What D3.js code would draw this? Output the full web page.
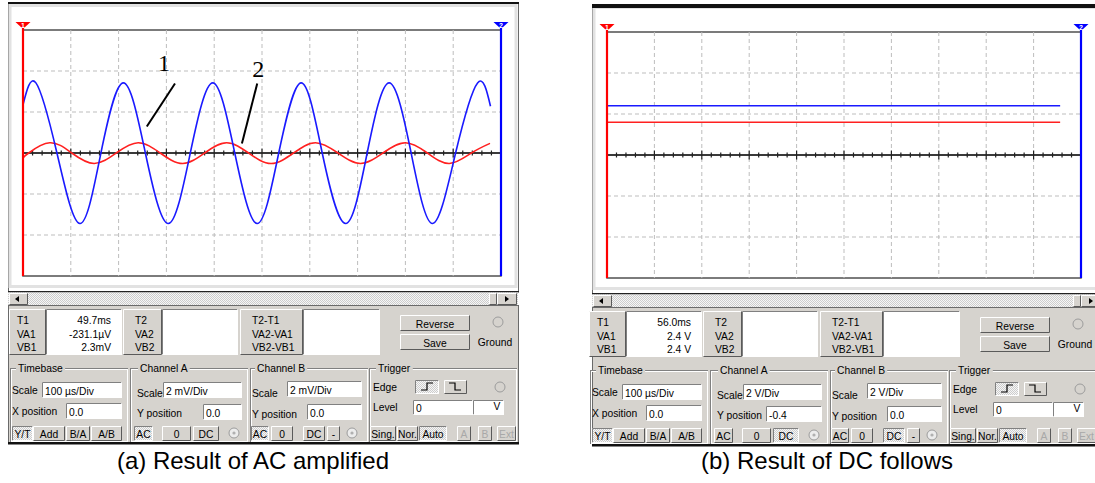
<!DOCTYPE html>
<html>
<head>
<meta charset="utf-8">
<script src="https://cdn.jsdelivr.net/npm/d3@7/dist/d3.min.js"></script>
<style>
body { margin: 0; background: #fff; }
svg text { font-family: "Liberation Sans", Arial, sans-serif; }
</style>
</head>
<body>
<svg id="chart" width="1095" height="483"></svg>
<script>
// (a) AC test: time in us, channel voltage in mV (2 mV/Div)
const acBlueTime = [0, 27, 71, 119, 163, 210, 256, 304, 350, 397, 443, 490, 535, 582, 626, 675, 720, 766, 812, 857, 905, 951, 978];
const acBlueMv   = [2.35, 3.42, 0, -3.44, 0, 3.42, 0, -3.44, 0, 3.42, 0, -3.44, 0, 3.42, 0, -3.44, 0, 3.42, 0, -3.44, 0, 3.42, 2.28];
const acRedTime  = [0, 12, 56, 102, 149, 195, 241, 287, 334, 380, 426, 472, 519, 566, 612, 659, 706, 753, 800, 846, 892, 938, 977];
const acRedMv    = [-0.23, 0, 0.5, 0, -0.51, 0, 0.5, 0, -0.51, 0, 0.5, 0, -0.51, 0, 0.5, 0, -0.51, 0, 0.5, 0, -0.51, 0, 0.47];

// (b) DC test: volts, 2 V/Div, channel A shifted by -0.4 Div
const dcTime  = [0, 956];
const dcBlueV = [2.4, 2.4];
const dcRedV  = [2.4, 2.4];

// trace callouts in (a)
const calloutText = ["1", "2"];
const calloutTail = [[318, 3.39], [490, 3.39]];
const calloutTip  = [[259, 1.29], [458, 0.46]];
const calloutPos  = [[295, 3.98], [492, 3.72]];

// instrument read-outs
const readLabels = [["T1", "VA1", "VB1"], ["T2", "VA2", "VB2"], ["T2-T1", "VA2-VA1", "VB2-VB1"]];
const readA = ["49.7ms", "-231.1µV", "2.3mV"];
const readB = ["56.0ms", "2.4 V", "2.4 V"];
const captions = ["(a) Result of AC amplified", "(b) Result of DC follows"];

const PANEL = "#d6d3ce";
const FS = 10.3;
const svg = d3.select("#chart");

const defs = svg.append("defs");
const pat = defs.append("pattern").attr("id", "dither")
	.attr("width", 2).attr("height", 2).attr("patternUnits", "userSpaceOnUse");
pat.append("rect").attr("width", 2).attr("height", 2).attr("fill", "#f6f6f6");
pat.append("rect").attr("width", 1).attr("height", 1).attr("fill", "#cdcdcd");
pat.append("rect").attr("x", 1).attr("y", 1).attr("width", 1).attr("height", 1).attr("fill", "#cdcdcd");

function label(g, x, y, txt, anchor, color) {
	return g.append("text").attr("x", x).attr("y", y)
		.attr("font-size", FS).attr("text-anchor", anchor || "start")
		.attr("fill", color || "#000").text(txt);
}

function bevel(g, x, y, w, h, sunken) {
	const lt = sunken ? "#808080" : "#ffffff";
	const rb = sunken ? "#ffffff" : "#5a5a5a";
	g.append("path").attr("d", `M${x + 0.5},${y + h - 0.5}V${y + 0.5}H${x + w - 0.5}`)
		.attr("fill", "none").attr("stroke", lt);
	g.append("path").attr("d", `M${x + w - 0.5},${y + 0.5}V${y + h - 0.5}H${x + 0.5}`)
		.attr("fill", "none").attr("stroke", rb);
}

function button(g, x, y, w, h, txt, pressed, disabled) {
	g.append("rect").attr("x", x).attr("y", y).attr("width", w).attr("height", h)
		.attr("fill", pressed ? "url(#dither)" : PANEL);
	bevel(g, x, y, w, h, pressed);
	if (txt) label(g, x + w / 2, y + h - 3.5, txt, "middle", disabled ? "#a8a8a8" : "#000");
}

function input(g, x, y, w, h, txt) {
	g.append("rect").attr("x", x).attr("y", y).attr("width", w).attr("height", h).attr("fill", "#fff");
	bevel(g, x, y, w, h, true);
	if (txt) label(g, x + 3, y + h - 3.5, txt);
}

function radio(g, cx, cy, dot) {
	g.append("circle").attr("cx", cx).attr("cy", cy).attr("r", 5)
		.attr("fill", dot ? "#ececec" : PANEL).attr("stroke", "#9c9c9c");
	if (dot) g.append("circle").attr("cx", cx).attr("cy", cy).attr("r", 1.6).attr("fill", "#b0b0b0");
}

function group(g, x, y, w, h, txt, tx) {
	g.append("rect").attr("x", x + 0.5).attr("y", y + 0.5).attr("width", w).attr("height", h)
		.attr("fill", "none").attr("stroke", "#808080");
	g.append("rect").attr("x", x + 1.5).attr("y", y + 1.5).attr("width", w - 1).attr("height", h - 1)
		.attr("fill", "none").attr("stroke", "#ffffff");
	const t = label(g, tx, y + 4, txt);
	const bb = t.node().getBBox();
	g.insert("rect", () => t.node()).attr("x", bb.x - 2).attr("y", bb.y).attr("width", bb.width + 4)
		.attr("height", bb.height).attr("fill", PANEL);
}

function drawScope(cfg) {
	const g = svg.append("g").attr("transform", `translate(${cfg.dx},${cfg.dy})`);

	/* -------------------- screen ---------------------- */
	g.append("rect").attr("x", 8.5).attr("y", 3.5).attr("width", 510).attr("height", 288)
		.attr("fill", "#fff").attr("stroke", "#6a6a6a");
	g.append("rect").attr("x", 10).attr("y", 5.5).attr("width", 506).attr("height", 281)
		.attr("fill", "none").attr("stroke", "#e2e2e2").attr("stroke-width", 3);
	g.append("rect").attr("x", 8).attr("y", 2).attr("width", 511).attr("height", cfg.topThick)
		.attr("fill", "#111");

	const x0 = 23, y0 = 30, ph = 246;
	const x = d3.scaleLinear().domain([0, 1000]).range([x0, x0 + cfg.plotW]);
	const y = d3.scaleLinear().domain([-3 * cfg.vDiv, 3 * cfg.vDiv]).range([y0 + ph, y0]);

	g.append("rect").attr("x", x0).attr("y", y0).attr("width", cfg.plotW).attr("height", ph)
		.attr("fill", "#fff").attr("stroke", "#505050").attr("stroke-width", 1.5);

	g.append("g").selectAll("line").data(d3.range(100, 1000, 100)).join("line")
		.attr("x1", d => x(d)).attr("x2", d => x(d)).attr("y1", y0).attr("y2", y0 + ph)
		.attr("stroke", "#bdbdbd").attr("stroke-dasharray", "4,3");
	g.append("g").selectAll("line").data(d3.range(-2, 3).filter(k => k !== 0)).join("line")
		.attr("x1", x0).attr("x2", x0 + cfg.plotW).attr("y1", k => y(k * cfg.vDiv)).attr("y2", k => y(k * cfg.vDiv))
		.attr("stroke", "#bdbdbd").attr("stroke-dasharray", "4,3");

	// centre axis with division ticks
	g.append("line").attr("x1", x0).attr("x2", x0 + cfg.plotW).attr("y1", y(0)).attr("y2", y(0))
		.attr("stroke", "#3a3a3a").attr("stroke-width", 2);
	g.append("g").selectAll("line").data(d3.range(0, 1001, 20)).join("line")
		.attr("x1", d => x(d)).attr("x2", d => x(d))
		.attr("y1", d => y(0) - (d % 100 === 0 ? 4.5 : 2.5))
		.attr("y2", d => y(0) + (d % 100 === 0 ? 4.5 : 2.5))
		.attr("stroke", "#222").attr("stroke-width", 1.2);

	const line = d3.line().x(d => x(d[0])).y(d => y(d[1])).curve(d3.curveNatural);
	cfg.traces.forEach(tr => {
		g.append("path").datum(tr.time.map((t, i) => [t, tr.value[i] + tr.shift]))
			.attr("d", line).attr("fill", "none")
			.attr("stroke", tr.color).attr("stroke-width", 1.6);
	});

	(cfg.callouts || []).forEach(c => {
		g.append("line").attr("x1", x(c.tail[0])).attr("y1", y(c.tail[1]))
			.attr("x2", x(c.tip[0])).attr("y2", y(c.tip[1]))
			.attr("stroke", "#000").attr("stroke-width", 2);
		g.append("text").attr("x", x(c.pos[0])).attr("y", y(c.pos[1]))
			.attr("text-anchor", "middle").attr("font-size", 24)
			.style("font-family", "'Liberation Serif', 'Times New Roman', serif").text(c.text);
	});

	// cursors
	[[0, "#ff0000", "1"], [1000, "#0000ff", "2"]].forEach(([t, col, n]) => {
		const cx = x(t);
		g.append("line").attr("x1", cx).attr("x2", cx).attr("y1", y0 - 2).attr("y2", y0 + ph)
			.attr("stroke", col).attr("stroke-width", 2.2);
		g.append("path").attr("d", `M${cx - 7.5},${y0 - 8}H${cx + 7.5}L${cx},${y0 - 1}Z`).attr("fill", col);
		g.append("text").attr("x", cx).attr("y", y0 - 2.5).attr("text-anchor", "middle")
			.attr("font-size", 7).attr("font-weight", "bold").attr("fill", "#fff").text(n);
	});

	/* -------------------- scroll bar ---------------------- */
	g.append("rect").attr("x", 8).attr("y", 291).attr("width", 511).attr("height", 1.5).attr("fill", "#222");
	g.append("rect").attr("x", 8).attr("y", 292.5).attr("width", 510).attr("height", 13).attr("fill", "url(#dither)");
	button(g, 9, 293, 19, 12, null, false);
	g.append("path").attr("d", "M15,299L19,296V302Z").attr("fill", "#000");
	button(g, 489, 293, 8, 12, null, false);
	button(g, 497, 293, 20, 12, null, false);
	g.append("path").attr("d", "M509,299L505,296V302Z").attr("fill", "#000");

	/* -------------------- control panel ---------------------- */
	const p = g.append("g").attr("transform", `translate(${cfg.panelShift},0)`);
	g.insert("rect", () => p.node()).attr("x", 8.5).attr("y", 305.5).attr("width", 510).attr("height", 137)
		.attr("fill", PANEL).attr("stroke", "#6a6a6a");

	// read-out boxes
	const boxes = [[9, 46, 122], [123, 162, 238], [240, 303, 380]];
	boxes.forEach(([l, v, r], i) => {
		p.append("rect").attr("x", l).attr("y", 309).attr("width", v - l).attr("height", 46).attr("fill", PANEL);
		bevel(p, l, 309, v - l, 46, false);
		p.append("rect").attr("x", v).attr("y", 309).attr("width", r - v).attr("height", 46).attr("fill", "#fff");
		bevel(p, v, 309, r - v, 46, true);
		readLabels[i].forEach((s, j) => label(p, [17, 135, 252][i], 324 + j * 13.5, s));
	});
	cfg.readout.forEach((s, j) => label(p, 111, 324 + j * 13.5, s, "end"));

	button(p, 400, 315, 70, 16, "Reverse", false);
	button(p, 400, 334, 70, 16, "Save", false);
	radio(p, 498, 322, false);
	label(p, 495, 346, "Ground", "middle");

	// Timebase
	group(p, 10, 368, 117, 73, "Timebase", 18);
	label(p, 12, 394, "Scale");
	input(p, 42, 382, 80, 16, "100 µs/Div");
	label(p, 12, 415, "X position");
	input(p, 66, 403, 56, 16, "0.0");
	[[12, 21, "Y/T", true], [33, 32, "Add"], [66, 24, "B/A"], [91, 31, "A/B"]]
		.forEach(b => button(p, b[0], 426, b[1], 15, b[2], b[3]));

	// Channel A
	group(p, 130, 368, 117, 73, "Channel A", 140);
	label(p, 137, 397, "Scale");
	input(p, 163, 382, 79, 16, cfg.chA.scale);
	label(p, 137, 417, "Y position");
	input(p, cfg.chA.posX, 404, 242 - cfg.chA.posX, 16, cfg.chA.pos);
	button(p, 134, 426, 19, 15, "AC", cfg.chA.coupling === "AC");
	button(p, 162, 426, 29, 15, "0", false);
	button(p, 193, 426, 26, 15, "DC", cfg.chA.coupling === "DC");
	radio(p, 234, 433, true);

	// Channel B
	group(p, 250, 368, 117, 73, "Channel B", 257);
	label(p, 252, 397, "Scale");
	input(p, 287, 381, 75, 16, cfg.chB.scale);
	label(p, 252, 418, "Y position");
	input(p, 307, 404, 55, 16, cfg.chB.pos);
	button(p, 251, 426, 18, 15, "AC", cfg.chB.coupling === "AC");
	button(p, 271, 426, 22, 15, "0", false);
	button(p, 303, 426, 22, 15, "DC", cfg.chB.coupling === "DC");
	button(p, 327, 426, 13, 15, "-", false);
	radio(p, 352, 433, true);

	// Trigger
	group(p, 369, 368, 147, 73, "Trigger", 378);
	label(p, 373, 391, "Edge");
	button(p, 415, 380, 24, 14, null, true);
	p.append("path").attr("d", "M421,390H427V383H433").attr("fill", "none").attr("stroke", "#000").attr("stroke-width", 1.2);
	button(p, 444, 380, 23, 14, null, false);
	p.append("path").attr("d", "M449,383H455V390H461").attr("fill", "none").attr("stroke", "#000").attr("stroke-width", 1.2);
	radio(p, 500, 387, false);
	label(p, 373, 411, "Level");
	input(p, 413, 400, 60, 15, "0");
	input(p, 473, 400, 31, 15, null);
	label(p, 497, 410, "V", "middle");
	[[370, 26, "Sing."], [397, 21, "Nor."], [419, 28, "Auto", true]]
		.forEach(b => button(p, b[0], 426, b[1], 15, b[2], b[3]));
	[[457, 14, "A"], [478, 14, "B"], [497, 19, "Ext"]]
		.forEach(b => button(p, b[0], 426, b[1], 15, b[2], false, true));

	g.append("rect").attr("x", 8).attr("y", 442).attr("width", 511).attr("height", 2.5).attr("fill", "#111");

	svg.append("text").attr("x", cfg.capX).attr("y", 469).attr("text-anchor", "middle")
		.attr("font-size", 24).text(cfg.caption);
}

drawScope({
	dx: 0, dy: 0, plotW: 478, vDiv: 2, topThick: 2, panelShift: 0,
	traces: [
		{ time: acRedTime, value: acRedMv, shift: 0, color: "#ff2020" },
		{ time: acBlueTime, value: acBlueMv, shift: 0, color: "#1a1aff" }
	],
	callouts: calloutText.map((s, i) => ({ text: s, tail: calloutTail[i], tip: calloutTip[i], pos: calloutPos[i] })),
	readout: readA,
	chA: { scale: "2 mV/Div", pos: "0.0", posX: 203, coupling: "AC" },
	chB: { scale: "2 mV/Div", pos: "0.0", coupling: "AC" },
	caption: captions[0], capX: 253
});

drawScope({
	dx: 584, dy: 2, plotW: 474, vDiv: 2, topThick: 4, panelShift: -4,
	traces: [
		{ time: dcTime, value: dcBlueV, shift: 0, color: "#1a1aff" },
		{ time: dcTime, value: dcRedV, shift: -0.4 * 2, color: "#ff2020" }
	],
	readout: readB,
	chA: { scale: "2 V/Div", pos: "-0.4", posX: 186, coupling: "DC" },
	chB: { scale: "2 V/Div", pos: "0.0", coupling: "DC" },
	caption: captions[1], capX: 827
});
</script>
</body>
</html>
